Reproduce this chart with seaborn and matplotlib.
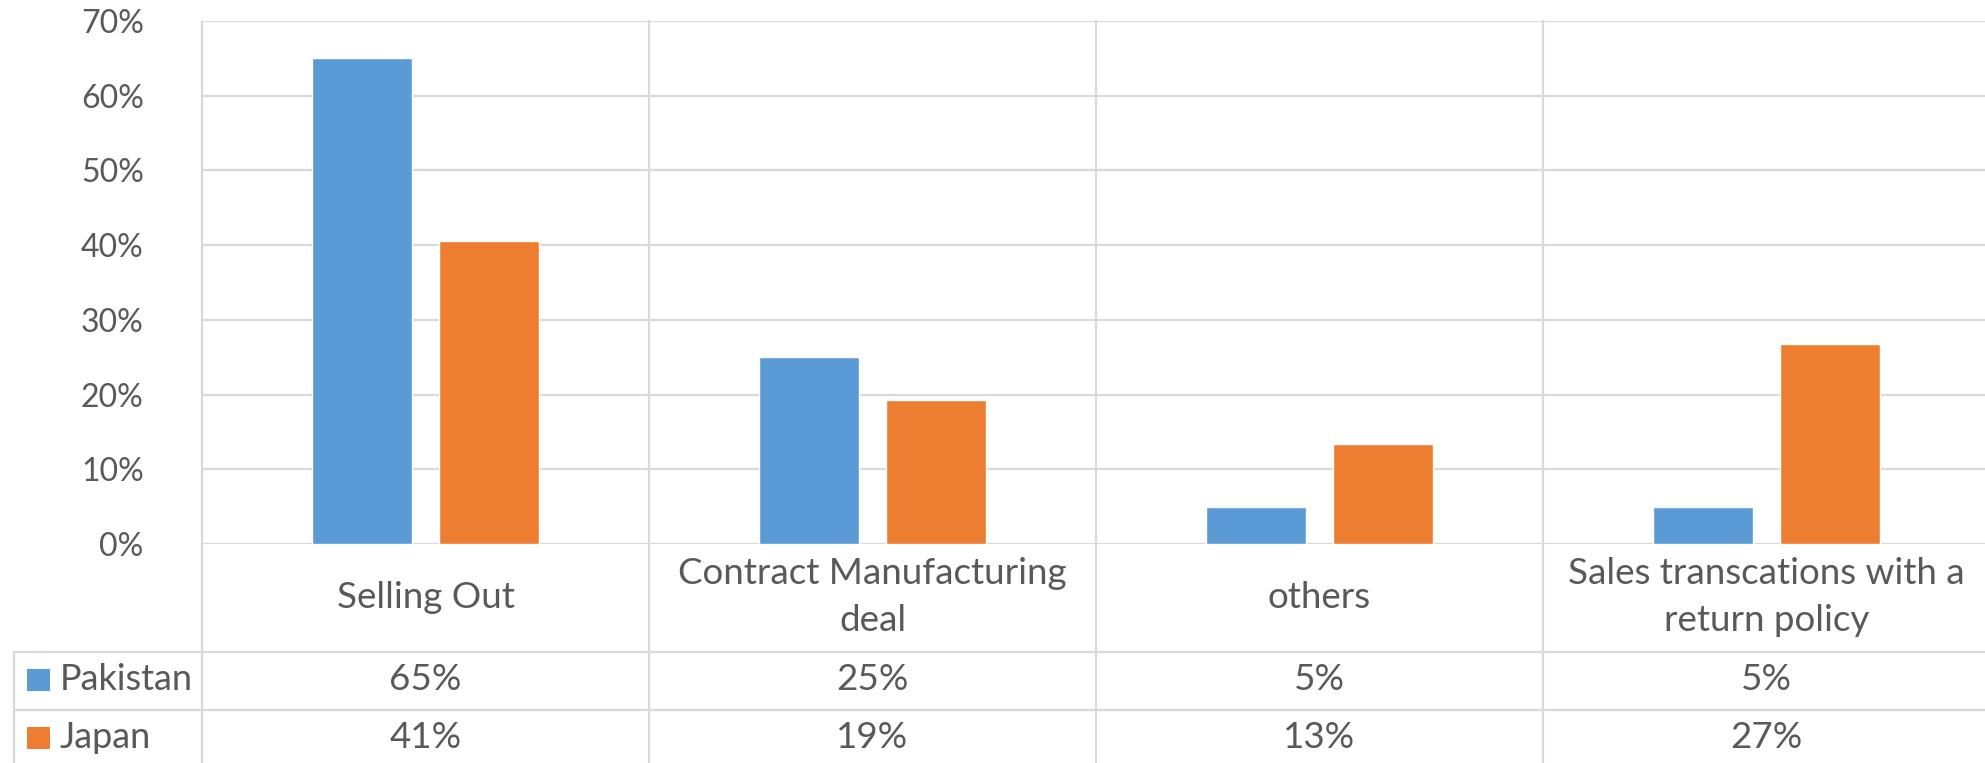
import matplotlib
matplotlib.use("Agg")
import matplotlib.pyplot as plt
import matplotlib.transforms as mtransforms
from matplotlib.ticker import PercentFormatter
import seaborn as sns
import pandas as pd

# Data
categories = ["Selling Out", "Contract Manufacturing\ndeal", "others",
              "Sales transcations with a\nreturn policy"]
series_names = ["Pakistan", "Japan"]
pakistan = [0.65, 0.25, 0.05, 0.05]
japan = [0.406, 0.193, 0.134, 0.268]
y_ticks = [0.0, 0.1, 0.2, 0.3, 0.4, 0.5, 0.6, 0.7]

BLUE = "#5B9BD5"
ORANGE = "#ED7D31"
GRID = "#D9D9D9"
TEXT = "#595959"

sns.set_theme(style="white")
plt.rcParams["font.family"] = ["Lato", "DejaVu Sans"]

df = pd.DataFrame({
    "category": categories * 2,
    "country": [series_names[0]] * 4 + [series_names[1]] * 4,
    "value": pakistan + japan,
})

W, H = 1985, 763
fig = plt.figure(figsize=(W / 100, H / 100), dpi=100)
# plot area in pixels: left 202, top 21, bottom 544, width reaching just past the right edge
ax_l, ax_t, ax_b, ax_w = 202, 21, 544, 1788
ax_h = ax_b - ax_t
ax = fig.add_axes([ax_l / W, 1 - ax_b / H, ax_w / W, ax_h / H])

sns.barplot(data=df, x="category", y="value", hue="country",
            palette=[BLUE, ORANGE], width=0.566, gap=0.21,
            saturation=1, legend=False, ax=ax, zorder=3)

ax.set_xlim(-0.5, len(categories) - 0.5)
ax.set_ylim(0, 0.7)
ax.set_yticks(y_ticks)
ax.yaxis.set_major_formatter(PercentFormatter(1.0, decimals=0))
ax.tick_params(axis="y", length=0, pad=42, labelsize=23, labelcolor=TEXT)
ax.set_xticks([])
ax.set_xlabel("")
ax.set_ylabel("")
for s in ax.spines.values():
    s.set_visible(False)
ax.yaxis.grid(True, color=GRID, linewidth=1.6, zorder=0)
ax.set_axisbelow(True)


def fy(py):
    return (ax_b - py) / ax_h


def fx(px):
    return (px - ax_l) / ax_w


xdata_yaxes = mtransforms.blended_transform_factory(ax.transData, ax.transAxes)
line_kw = dict(color=GRID, linewidth=1.6, clip_on=False, zorder=1)

# vertical separators between categories, running through the data table
for i in range(len(categories) + 1):
    ax.plot([i - 0.5, i - 0.5], [1, fy(800)], transform=xdata_yaxes, **line_kw)

# data table rows
row_lines = [652, 710]
for py in row_lines:
    ax.plot([fx(14), 1.05], [fy(py), fy(py)], transform=ax.transAxes, **line_kw)
ax.plot([fx(14), fx(14)], [fy(652), fy(800)], transform=ax.transAxes, **line_kw)

# category labels
for i, cat in enumerate(categories):
    ax.text(i, fy(597), cat, transform=xdata_yaxes, ha="center", va="center",
            fontsize=26.5, color=TEXT, linespacing=1.5)

# table values and legend keys
row_centers = [680, 738]
for vals, name, color, py in zip([pakistan, japan], series_names,
                                 [BLUE, ORANGE], row_centers):
    for i, v in enumerate(vals):
        ax.text(i, fy(py), f"{v:.0%}", transform=xdata_yaxes, ha="center",
                va="center", fontsize=26.5, color=TEXT)
    ax.add_patch(plt.Rectangle((fx(27), fy(py + 11)), fx(50) - fx(27),
                               fy(py - 11) - fy(py + 11), transform=ax.transAxes,
                               facecolor=color, edgecolor="none", clip_on=False))
    ax.text(fx(60), fy(py), name, transform=ax.transAxes, ha="left",
            va="center", fontsize=26, color=TEXT)

fig.savefig("out.png", dpi=100, facecolor="white")
